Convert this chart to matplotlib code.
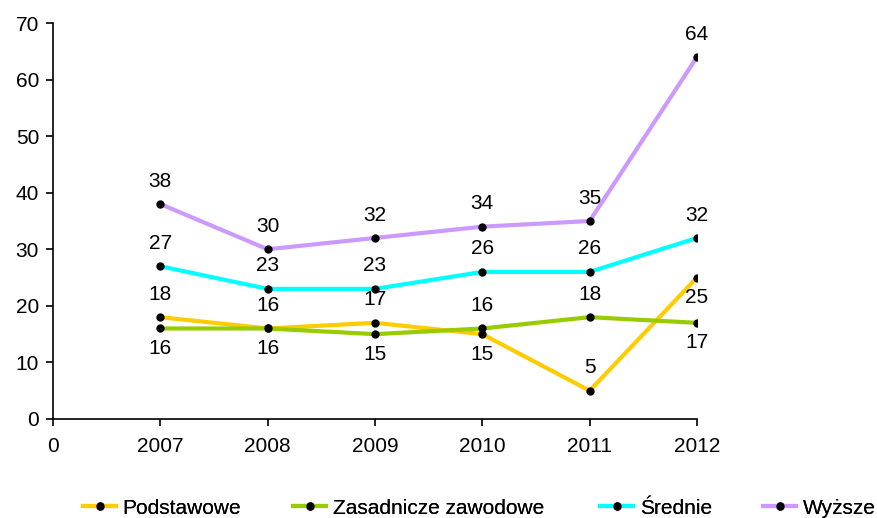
import numpy as np
import matplotlib.pyplot as plt

plt.rcParams['font.family'] = ['Liberation Sans', 'DejaVu Sans']

years = ['2007', '2008', '2009', '2010', '2011', '2012']
podstawowe = [18, 16, 17, 15, 5, 25]
zasadnicze = [16, 16, 15, 16, 18, 17]
srednie = [27, 23, 23, 26, 26, 32]
wyzsze = [38, 30, 32, 34, 35, 64]

names = ['Podstawowe', 'Zasadnicze zawodowe', 'Średnie', 'Wyższe']
colors = ['#FFCC00', '#99CC00', '#00FFFF', '#CC99FF']
# label placement per point: 1 = above, -1 = below
pos_podst = [1, 1, 1, -1, 1, -1]
pos_zasad = [-1, -1, -1, 1, 1, -1]
pos_sred = [1, 1, 1, 1, 1, 1]
pos_wyz = [1, 1, 1, 1, 1, 1]

fig = plt.figure(figsize=(8.77, 5.18), dpi=100)
ax = fig.add_axes([53/877, 1-419/518, (697-53)/877, (419-23)/518])

x = np.arange(1, len(years) + 1)
series = [podstawowe, zasadnicze, srednie, wyzsze]
positions = [pos_podst, pos_zasad, pos_sred, pos_wyz]
for vals, name, c, pos in zip(series, names, colors, positions):
    ax.plot(x, vals, color=c, lw=3, marker='o', ms=5, mfc='black', mec='black',
            label=name, solid_joinstyle='miter')
    for xi, v, p in zip(x, vals, pos):
        off = 16.5 if p > 0 else -14.5
        ax.annotate(str(v), (xi, v), xytext=(0, off), textcoords='offset points',
                    ha='center', va='center', fontsize=15)

ax.set_xlim(0, 6)
ax.set_ylim(0, 70)
ax.set_xticks(np.arange(0, 7))
ax.set_xticklabels(['0'] + years)
ax.set_yticks(np.arange(0, 71, 10))
ax.tick_params(labelsize=15, length=5, width=1.2, direction='out', pad=8)
ax.tick_params(axis='y', pad=5)
for s in ['top', 'right']:
    ax.spines[s].set_visible(False)
for s in ['left', 'bottom']:
    ax.spines[s].set_linewidth(1.2)

# legend entries placed one by one (last one runs off the right edge)
handles, labels = ax.get_legend_handles_labels()
leg_x = [83, 293, 600, 763]
for h, l, lx in zip(handles, labels, leg_x):
    lg = fig.legend([h], [l], loc='center left', bbox_to_anchor=(lx/877, 1-508/518),
                    frameon=False, borderpad=0, borderaxespad=0, fontsize=15,
                    handlelength=1.6, handletextpad=0.3)
    fig.add_artist(lg)

fig.savefig('out.png', dpi=100)
